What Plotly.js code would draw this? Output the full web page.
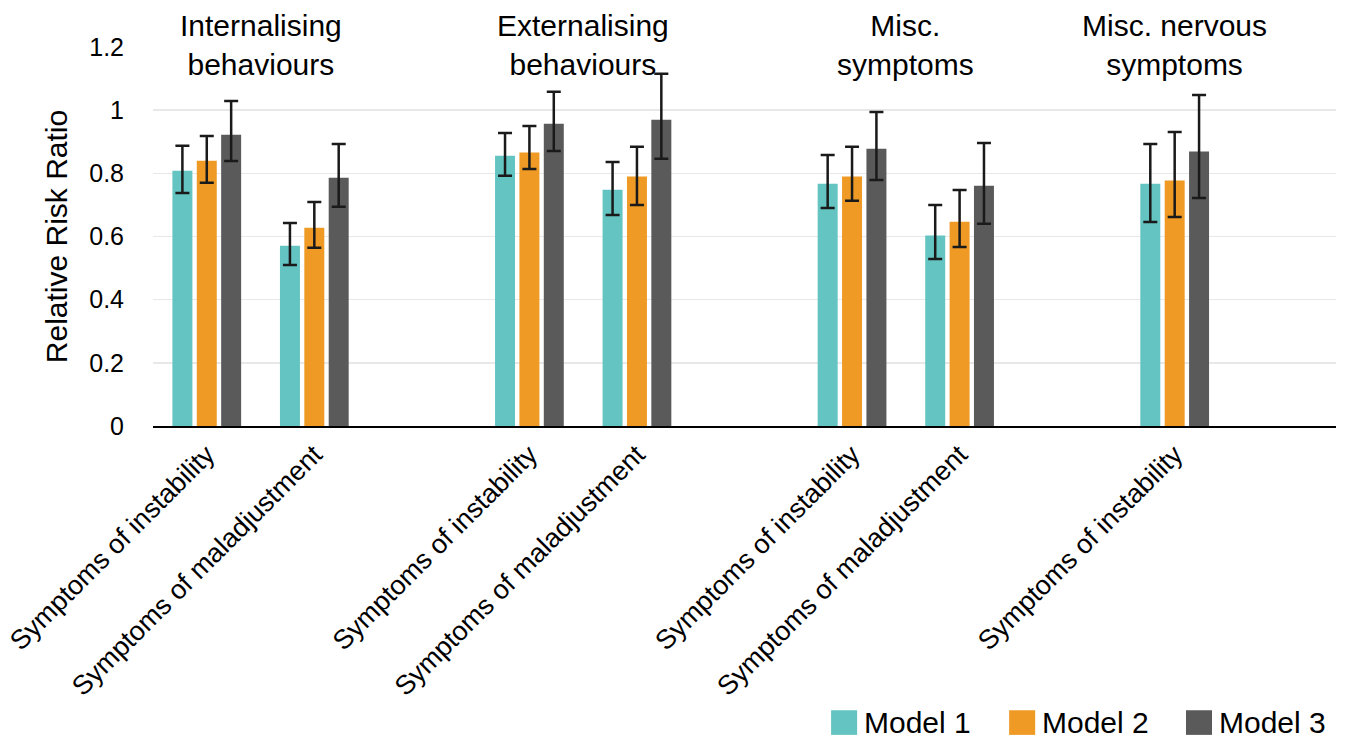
<!DOCTYPE html>
<html>
<head>
<meta charset="utf-8">
<script src="https://cdn.plot.ly/plotly-3.0.1.min.js"></script>
<style>html,body{margin:0;padding:0;background:#fff;}#chart{width:1346px;height:739px;}</style>
</head>
<body>
<div id="chart"></div>
<script>
// Slots along the x axis (blank slots are the gaps between groups)
const slotLabels = ["Symptoms of instability", "Symptoms of maladjustment", "",
                    "Symptoms of instability", "Symptoms of maladjustment", "",
                    "Symptoms of instability", "Symptoms of maladjustment", "",
                    "Symptoms of instability", ""];
const groupTitles = ["Internalising<br>behaviours", "Externalising<br>behaviours", "Misc.<br>symptoms", "Misc. nervous<br>symptoms"];
const groupCenters = [0.5, 3.5, 6.5, 9];
const seriesNames = ["Model 1", "Model 2", "Model 3"];
const seriesColors = ["#63C4C2", "#EE9A25", "#5A5A5A"];

const model1      = [0.808, 0.571, null, 0.856, 0.748, null, 0.767, 0.603, null, 0.767, null];
const model1Upper = [0.887, 0.643, null, 0.928, 0.836, null, 0.858, 0.700, null, 0.893, null];
const model1Lower = [0.738, 0.510, null, 0.792, 0.668, null, 0.690, 0.529, null, 0.646, null];
const model2      = [0.840, 0.628, null, 0.866, 0.790, null, 0.790, 0.647, null, 0.777, null];
const model2Upper = [0.918, 0.709, null, 0.950, 0.884, null, 0.884, 0.747, null, 0.931, null];
const model2Lower = [0.770, 0.564, null, 0.814, 0.700, null, 0.713, 0.567, null, 0.662, null];
const model3      = [0.922, 0.786, null, 0.957, 0.970, null, 0.878, 0.761, null, 0.869, null];
const model3Upper = [1.029, 0.893, null, 1.058, 1.115, null, 0.994, 0.896, null, 1.048, null];
const model3Lower = [0.839, 0.694, null, 0.871, 0.846, null, 0.779, 0.640, null, 0.722, null];

const yTickVals = [0, 0.2, 0.4, 0.6, 0.8, 1, 1.2];
const yTickText = ["0", "0.2", "0.4", "0.6", "0.8", "1", "1.2"];

const FONT = '"Liberation Sans", Arial, Helvetica, sans-serif';
const xs = slotLabels.map((_, i) => i);
const vals = [model1, model2, model3];
const ups = [model1Upper, model2Upper, model3Upper];
const lows = [model1Lower, model2Lower, model3Lower];

const traces = vals.map((v, k) => ({
  type: 'bar',
  name: seriesNames[k],
  x: xs,
  y: v,
  marker: {color: seriesColors[k]},
  showlegend: false,
  error_y: {
    type: 'data', symmetric: false,
    array: v.map((y, i) => y == null ? null : ups[k][i] - y),
    arrayminus: v.map((y, i) => y == null ? null : y - lows[k][i]),
    color: '#1a1a1a', thickness: 2.5, width: 7
  },
  hoverinfo: 'x+y'
}));

const labelIdx = xs.filter(i => slotLabels[i] !== "");

const annotations = groupTitles.map((t, i) => ({
  x: groupCenters[i], y: 1.2, xref: 'x', yref: 'y',
  text: t, showarrow: false, yanchor: 'middle', xanchor: 'center',
  font: {family: FONT, size: 30, color: '#000'}, yshift: 2
}));

// Custom legend (large swatches)
const legX = [0.5732, 0.7237, 0.8732];
const shapes = [];
seriesNames.forEach((n, k) => {
  shapes.push({type: 'rect', xref: 'paper', yref: 'paper',
    x0: legX[k], x1: legX[k] + 0.022, y0: -0.815, y1: -0.75,
    fillcolor: seriesColors[k], line: {width: 0}});
  annotations.push({xref: 'paper', yref: 'paper', x: legX[k] + 0.026, y: -0.783,
    text: n, showarrow: false, xanchor: 'left', yanchor: 'middle',
    font: {family: FONT, size: 30, color: '#000'}});
});

const layout = {
  width: 1346, height: 739,
  margin: {l: 152.7, r: 10, t: 46.7, b: 313.3, pad: 0},
  paper_bgcolor: '#fff', plot_bgcolor: '#fff',
  font: {family: FONT, color: '#000'},
  barmode: 'group', bargap: 0.32, bargroupgap: 0.18,
  xaxis: {
    range: [-0.5, 10.5], tickmode: 'array',
    tickvals: labelIdx, ticktext: labelIdx.map(i => slotLabels[i]),
    tickangle: -45, tickfont: {family: FONT, size: 27, color: '#000'},
    showgrid: false, zeroline: false, showline: true, linecolor: '#000', linewidth: 2,
    ticks: '', fixedrange: true
  },
  yaxis: {
    range: [0, 1.2], tickmode: 'array', tickvals: yTickVals, ticktext: yTickText,
    tickfont: {family: FONT, size: 25, color: '#000'},
    showgrid: true, gridcolor: '#e8e8e8', gridwidth: 1.5,
    zeroline: false, showline: false, ticks: '', ticklabelstandoff: 28,
    title: {text: 'Relative Risk Ratio', font: {family: FONT, size: 30, color: '#000'}, standoff: 12},
    fixedrange: true
  },
  annotations: annotations,
  shapes: shapes,
  showlegend: false
};

Plotly.newPlot('chart', traces, layout, {displayModeBar: false, staticPlot: true});
</script>
</body>
</html>
